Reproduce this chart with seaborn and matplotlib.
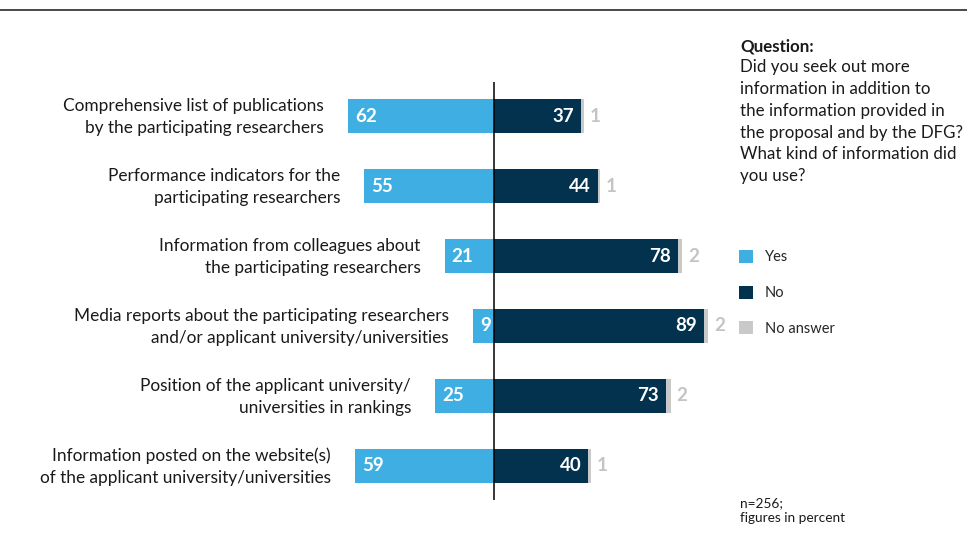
import numpy as np
import pandas as pd
import matplotlib
matplotlib.use("Agg")
import matplotlib.pyplot as plt
from matplotlib.patches import Patch
from matplotlib.transforms import offset_copy
import seaborn as sns

# Survey results (percent)
categories = [
    "Comprehensive list of publications\nby the participating researchers",
    "Performance indicators for the\nparticipating researchers",
    "Information from colleagues about\nthe participating researchers",
    "Media reports about the participating researchers\nand/or applicant university/universities",
    "Position of the applicant university/\nuniversities in rankings",
    "Information posted on the website(s)\nof the applicant university/universities",
]
yes = [62, 55, 21, 9, 25, 59]
no = [37, 44, 78, 89, 73, 40]
no_answer = [1, 1, 2, 2, 2, 1]

legend_labels = ["Yes", "No", "No answer"]
question_title = "Question:"
question_text = ("Did you seek out more\ninformation in addition to\nthe information provided in\n"
                 "the proposal and by the DFG?\nWhat kind of information did\nyou use?")
footnote = "n=256;\nfigures in percent"

C_YES = "#3eaee3"
C_NO = "#02324e"
C_NA = "#c9c9c9"
C_NA_TXT = "#c4c4c4"
C_TXT = "#1a1a1a"

sns.set_style("white")
plt.rcParams["font.family"] = ["Lato", "DejaVu Sans"]

df = pd.DataFrame({
    "category": categories,
    "yes": yes,
    "no": no,
    "no_answer": no_answer,
})
df["yes_left"] = -df["yes"]
df["no_total"] = df["no"] + df["no_answer"]

W, H = 967, 534
fig = plt.figure(figsize=(W / 100, H / 100), dpi=100)
ax_l, ax_r, ax_t, ax_b = 340, 740, 82, 500
ax = fig.add_axes([ax_l / W, 1 - ax_b / H, (ax_r - ax_l) / W, (ax_b - ax_t) / H])

scale = 2.356  # pixels per percent
x0 = 494
bar_w = 34 / 70

sns.barplot(data=df, x="no_total", y="category", color=C_NA, saturation=1,
            width=bar_w, orient="h", ax=ax, linewidth=0)
sns.barplot(data=df, x="no", y="category", color=C_NO, saturation=1,
            width=bar_w, orient="h", ax=ax, linewidth=0)
sns.barplot(data=df, x="yes_left", y="category", color=C_YES, saturation=1,
            width=bar_w, orient="h", ax=ax, linewidth=0)

ax.set_xlim((ax_l - x0) / scale, (ax_r - x0) / scale)
ax.set_ylim(len(categories) - 1 + 0.486, -0.486)
ax.axvline(0, color="black", lw=1.1, zorder=5)
ax.set_axis_off()

lbl_kw = dict(fontsize=13.5, fontweight="bold", va="center")
left_in = offset_copy(ax.transData, fig=fig, x=7, y=0, units="dots")
right_in = offset_copy(ax.transData, fig=fig, x=-7, y=0, units="dots")
right_out = offset_copy(ax.transData, fig=fig, x=6, y=0, units="dots")
cat_pos = offset_copy(ax.transData, fig=fig, x=-24, y=-1, units="dots")

for i, row in df.iterrows():
    ax.text(-row["yes"], i, str(row["yes"]), color="white", ha="left",
            transform=left_in, **lbl_kw)
    ax.text(row["no"], i, str(row["no"]), color="white", ha="right",
            transform=right_in, **lbl_kw)
    ax.text(row["no_total"], i, str(row["no_answer"]), color=C_NA_TXT, ha="left",
            transform=right_out, **lbl_kw)
    ax.text(-row["yes"], i, row["category"], color=C_TXT, ha="right", va="center",
            multialignment="right", fontsize=12.4, linespacing=1.45,
            transform=cat_pos)

# Top rule
fig.add_artist(plt.Line2D([0, 1], [1 - 10 / H, 1 - 10 / H], color="#3a3a3a", lw=1.3))

# Question block
fig.text(740 / W, 1 - 46 / H, question_title, fontsize=12.2, fontweight="bold",
         color=C_TXT, va="center", ha="left")
fig.text(740 / W, 1 - 59 / H, question_text, fontsize=12.2, color=C_TXT,
         va="top", ha="left", linespacing=1.45)

# Legend
handles = [Patch(facecolor=c, edgecolor="none") for c in (C_YES, C_NO, C_NA)]
fig.legend(handles, legend_labels, loc="upper left",
           bbox_to_anchor=(733 / W, 1 - 244 / H), frameon=False,
           fontsize=10.5, handlelength=1.0, handleheight=1.0,
           handletextpad=0.8, labelspacing=1.45, borderaxespad=0)

fig.text(740 / W, 1 - 497 / H, footnote, fontsize=9.8, color=C_TXT,
         va="top", ha="left", linespacing=1.3)

fig.savefig("out.png", dpi=100)
